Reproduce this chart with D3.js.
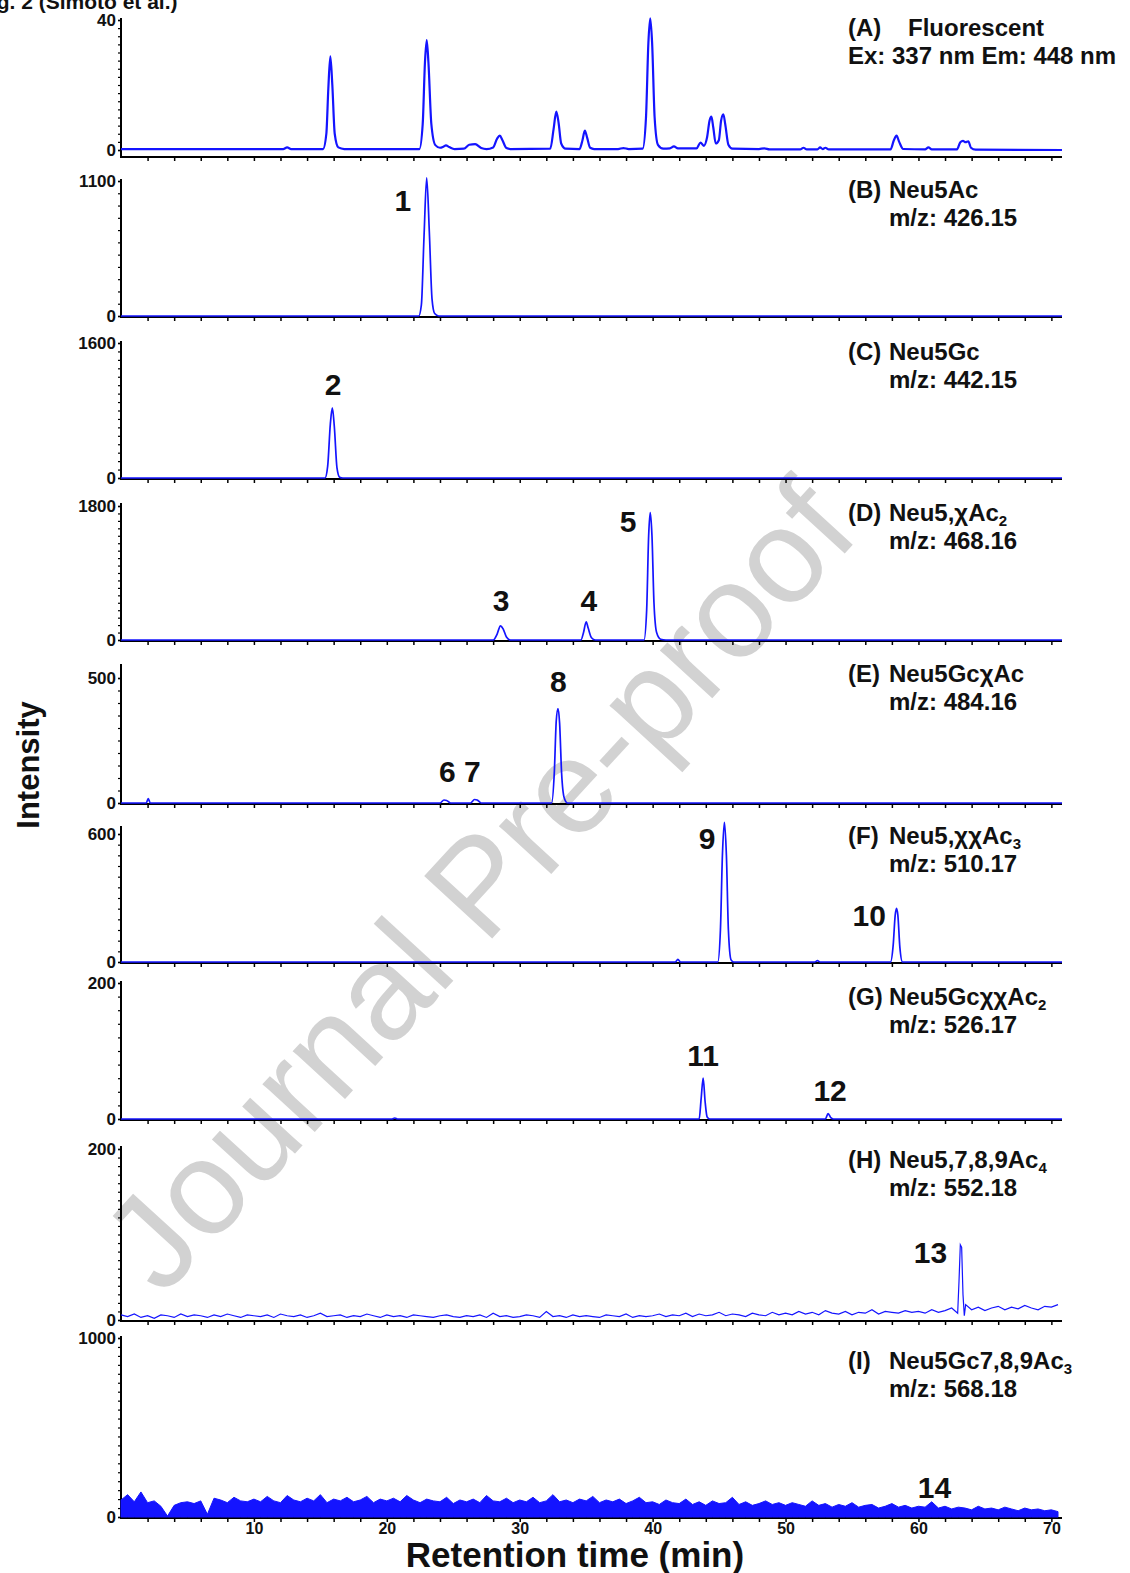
<!DOCTYPE html>
<html><head><meta charset="utf-8">
<script src="https://cdn.jsdelivr.net/npm/d3@7"></script>
<style>
body{margin:0;background:#fff}
svg{display:block}
text{font-family:"Liberation Sans",Arial,sans-serif;font-weight:bold;fill:#111}
</style></head>
<body><svg id="c" width="1130" height="1573"></svg>
<script>
// ---------------- data ----------------
const timeMax = 70.8;
const xTickLabels = [10, 20, 30, 40, 50, 60, 70];
const yMaxLabels = [40, 1100, 1600, 1800, 500, 600, 200, 200, 1000];
const yMinorStep = [2.5, 100, 100, 100, 50, 50, 20, 10, 50];
const panelIds = ["(A)", "(B)", "(C)", "(D)", "(E)", "(F)", "(G)", "(H)", "(I)"];
const panelNames = [
  ["Fluorescent"], ["Neu5Ac"], ["Neu5Gc"], ["Neu5,χAc", "2"], ["Neu5GcχAc"],
  ["Neu5,χχAc", "3"], ["Neu5GcχχAc", "2"], ["Neu5,7,8,9Ac", "4"], ["Neu5Gc7,8,9Ac", "3"]
];
const panelSub = ["Ex: 337 nm Em: 448 nm", "m/z: 426.15", "m/z: 442.15", "m/z: 468.16",
  "m/z: 484.16", "m/z: 510.17", "m/z: 526.17", "m/z: 552.18", "m/z: 568.18"];

// chromatogram traces [retention time (min), intensity]
const traceA = [[0,0.3],[12.2,0.3],[12.5,0.8],[12.8,0.3],
 [15.2,0.3],[15.45,5],[15.6,19],[15.75,28.8],[15.9,20],[16.08,5],[16.35,0.8],[16.8,0.3],
 [22.45,0.3],[22.7,8],[22.87,27],[23.0,33.8],[23.13,27],[23.35,8],[23.65,1.5],[24.0,0.7],
 [24.25,1.0],[24.45,1.4],[24.7,0.9],[25.1,0.3],
 [25.8,0.4],[26.2,1.6],[26.65,1.8],[27.1,0.6],[27.5,0.3],
 [28.0,0.8],[28.3,3.5],[28.5,4.4],[28.7,3],[29.0,0.6],[29.3,0.3],
 [32.3,0.4],[32.55,6.5],[32.75,11.8],[32.92,8.5],[33.12,2],[33.45,0.4],
 [34.5,0.3],[34.72,3],[34.9,6],[35.07,3.8],[35.3,0.7],[35.6,0.3],
 [37.4,0.3],[37.8,0.6],[38.2,0.3],
 [39.25,0.4],[39.5,10],[39.68,33],[39.82,40.5],[39.96,33],[40.15,10],[40.4,1.6],[40.8,0.4],
 [41.3,0.5],[41.6,1.1],[41.9,0.5],
 [43.3,0.5],[43.6,2.3],[43.85,1.3],
 [44.1,4],[44.28,9],[44.42,10.3],[44.56,7],[44.75,2],
 [44.98,3],[45.15,9],[45.32,11],[45.46,8],[45.7,1.6],[46.0,0.4],
 [48.0,0.3],[48.4,0.5],[48.8,0.2],
 [51.1,0.2],[51.35,0.7],[51.6,0.2],[52.4,0.2],[52.6,0.8],[52.8,0.3],[53.0,0.7],[53.25,0.2],
 [57.9,0.2],[58.15,3],[58.35,4.4],[58.55,2.5],[58.85,0.3],
 [60.5,0.2],[60.75,0.8],[61.0,0.2],
 [62.9,0.2],[63.15,2.4],[63.35,2.8],[63.55,2.4],[63.75,2.7],[63.95,0.7],[64.3,0.1],
 [70.8,0]];
const traceB = [[0,0],[22.4,0],[22.6,90],[22.8,650],[23.0,1125],[23.2,680],[23.4,140],[23.6,20],[23.9,0],[70.8,0]];
const traceC = [[0,0],[15.35,0],[15.55,140],[15.75,640],[15.9,830],[16.05,610],[16.25,120],[16.45,10],[16.7,0],[70.8,0]];
const traceD = [[0,0],[28.0,0],[28.3,80],[28.55,190],[28.75,150],[29.0,40],[29.3,0],
 [34.6,0],[34.8,100],[35.0,245],[35.15,160],[35.4,30],[35.7,0],
 [39.35,0],[39.55,400],[39.7,1400],[39.82,1710],[39.95,1400],[40.1,500],[40.3,100],[40.6,10],[41,0],[70.8,0]];
const traceE = [[0,0],[1.9,0],[2.05,18],[2.2,0],[24.0,0],[24.3,12],[24.5,10],[24.8,0],
 [26.3,0],[26.6,14],[26.8,12],[27.1,0],
 [32.4,0],[32.6,120],[32.75,330],[32.88,378],[33.0,320],[33.15,120],[33.35,20],[33.6,0],[70.8,0]];
const traceF = [[0,0],[41.7,0],[41.9,12],[42.1,0],
 [44.9,0],[45.1,150],[45.25,500],[45.4,655],[45.55,500],[45.7,150],[45.9,10],[46.1,0],
 [52.2,0],[52.4,6],[52.6,0],
 [57.9,0],[58.1,80],[58.25,220],[58.35,252],[58.45,220],[58.6,70],[58.8,0],[70.8,0]];
const traceG = [[0,0],[20.4,0],[20.6,1.5],[20.8,0],[43.5,0],[43.65,30],[43.8,60],[43.95,25],[44.1,3],[44.3,0],
 [53.0,0],[53.2,8],[53.4,2],[53.6,0],[70.8,0]];
// H: noisy baseline sampled every 0.5 min, plus peak 13
const noiseStep = 0.5;
const noiseH = [
 6,4,7,3,5,2,6,5,3,7,4,6,5,3,6,4,7,5,3,6,
 5,4,6,3,7,5,4,6,3,5,8,4,5,6,3,5,4,7,5,3,
 6,4,5,3,6,5,4,3,5,6,4,3,5,4,6,3,8,4,5,3,
 4,6,5,3,10,4,5,3,6,4,5,4,3,6,5,4,7,3,5,4,
 5,7,4,6,5,8,4,7,5,6,9,5,7,6,4,8,6,5,9,6,
 8,6,10,7,9,6,11,8,7,10,6,9,8,12,7,10,9,8,11,9,
 10,8,12,9,11,14,10,13,12,15,11,14,16,12,15,13,17,14,12,16,15,18];
const peak13 = [[62.95,8],[63.05,45],[63.15,88],[63.25,85],[63.35,30],[63.45,5],[63.55,18]];
// I: noise band sampled every 0.5 min (peak 14 near 61 min)
const noiseI = [
 95,125,85,140,80,90,60,5,65,80,85,75,90,15,105,95,80,110,90,85,
 100,85,115,90,80,120,95,85,105,90,125,80,100,90,110,85,95,115,80,100,
 90,105,85,120,95,80,100,90,85,110,75,95,85,100,80,120,90,85,105,80,
 95,85,110,80,90,125,85,95,80,100,90,115,80,95,85,100,75,90,110,80,
 85,70,95,80,75,100,70,85,65,90,75,80,110,70,85,65,75,90,70,80,
 65,80,70,60,90,65,75,55,70,60,80,55,65,70,50,60,75,55,65,50,
 60,55,85,50,60,45,55,50,40,60,45,50,40,55,45,35,50,40,45,35,40,30];

// peak number annotations: panel index, text, time, intensity (baseline of text)
const peakLabels = [
 [1,"1",21.2,856],[2,"2",15.95,984],[3,"3",28.6,390],[3,"4",35.2,390],[3,"5",38.15,1450],
 [4,"6 7",25.5,84],[4,"8",32.9,444],[5,"9",44.1,530],[5,"10",56.3,169],
 [6,"11",43.8,78],[6,"12",53.35,26],[7,"13",60.9,67],[8,"14",61.2,106]];

// ---------------- layout ----------------
const layout = [
 {yTop:20,  yZero:150,  axisY:157,  spineTop:18},
 {yTop:181, yZero:316,  axisY:317,  spineTop:179},
 {yTop:343, yZero:478,  axisY:479,  spineTop:341},
 {yTop:506, yZero:640,  axisY:641,  spineTop:503},
 {yTop:678, yZero:803,  axisY:804,  spineTop:664},
 {yTop:834, yZero:962,  axisY:963,  spineTop:826},
 {yTop:983, yZero:1119, axisY:1120, spineTop:981},
 {yTop:1149,yZero:1320, axisY:1321, spineTop:1146},
 {yTop:1338,yZero:1517, axisY:1518, spineTop:1336}];
const titleY = [36,198,360,521,682,844,1005,1168,1369];

const svg = d3.select("#c");
const blue = "#1414ff";
const x = d3.scaleLinear().domain([0, timeMax]).range([121, 1062]);

// watermark
svg.append("text").attr("transform","translate(478,885) rotate(-47.5)")
  .attr("text-anchor","middle").attr("dominant-baseline","central")
  .style("font-weight","normal").style("font-size","134px").style("fill","#d2d2d2")
  .text("Journal Pre-proof");

// top caption (cut off by the page edge, as in the source figure)
svg.append("text").attr("x",-22).attr("y",9).style("font-size","21px").text("Fig. 2 (Simoto et al.)");

const traces = [traceA, traceB, traceC, traceD, traceE, traceF, traceG];
const hPoints = noiseH.map((v,i)=>[i*noiseStep, v])
  .filter(p => p[0] < 62.95 || p[0] > 63.55).concat(peak13).sort((a,b)=>a[0]-b[0]);
const iPoints = noiseI.map((v,i)=>[i*noiseStep, v]);

layout.forEach((L, k) => {
  const top = yMaxLabels[k];
  const y = d3.scaleLinear().domain([0, top]).range([L.yZero, L.yTop]);
  const g = svg.append("g");
  // x axis line + small ticks every 2 min
  const xAxis = d3.axisBottom(x).tickValues(d3.range(2, timeMax, 2)).tickSize(4).tickFormat("");
  const xa = g.append("g").attr("transform",`translate(0,${L.axisY})`).call(xAxis);
  xa.select(".domain").attr("d",`M${x(0)},0H${x(timeMax)}`).attr("stroke","#000").attr("stroke-width",2);
  xa.selectAll(".tick line").attr("stroke","#000").attr("stroke-width",1.5);
  if (k === 8) {
    const lab = g.append("g").attr("transform",`translate(0,${L.axisY})`)
      .call(d3.axisBottom(x).tickValues(xTickLabels).tickSize(0).tickPadding(5));
    lab.select(".domain").remove();
    lab.selectAll("text").style("font-size","16px").style("font-family","Liberation Sans, Arial, sans-serif")
      .style("font-weight","bold").attr("fill","#111");
  }
  // y axis spine + minor ticks
  g.append("line").attr("x1",x(0)).attr("x2",x(0)).attr("y1",L.spineTop).attr("y2",L.axisY+1)
    .attr("stroke","#000").attr("stroke-width",2);
  const minor = d3.range(0, top + 1e-9, yMinorStep[k]);
  g.append("g").attr("transform",`translate(${x(0)},0)`)
    .call(d3.axisLeft(y).tickValues(minor).tickSize(3).tickFormat(""))
    .call(s => s.select(".domain").remove())
    .selectAll("line").attr("stroke","#000").attr("stroke-width",1.2);
  const ya = g.append("g").attr("transform",`translate(${x(0)},0)`)
    .call(d3.axisLeft(y).tickValues([0, top]).tickSize(3).tickPadding(2).tickFormat(d3.format("d")));
  ya.select(".domain").remove();
  ya.selectAll("line").attr("stroke","#000").attr("stroke-width",1.5);
  ya.selectAll("text").style("font-size","17px").style("font-family","Liberation Sans, Arial, sans-serif")
    .style("font-weight","bold").attr("fill","#111");

  // trace
  if (k < 7) {
    g.append("path").datum(traces[k])
      .attr("d", d3.line().x(d=>x(d[0])).y(d=>y(d[1])).curve(d3.curveMonotoneX))
      .attr("fill","none").attr("stroke",blue).attr("stroke-width", k===0 ? 2.2 : 1.7);
  } else if (k === 7) {
    g.append("path").datum(hPoints)
      .attr("d", d3.line().x(d=>x(d[0])).y(d=>y(d[1])))
      .attr("fill","none").attr("stroke",blue).attr("stroke-width",1.2);
  } else {
    g.append("path").datum(iPoints)
      .attr("d", d3.area().x(d=>x(d[0])).y0(y(0)).y1(d=>y(d[1])))
      .attr("fill",blue).attr("stroke",blue).attr("stroke-width",1);
  }

  // panel title
  const t1 = g.append("text").attr("x",848).attr("y",titleY[k]).style("font-size","24px");
  t1.append("tspan").text(panelIds[k]);
  t1.append("tspan").attr("x", k===0 ? 908 : 889).text(panelNames[k][0]);
  if (panelNames[k][1]) t1.append("tspan").attr("dy",5).style("font-size","15px").text(panelNames[k][1]);
  g.append("text").attr("x", k===0 ? 848 : 889).attr("y",titleY[k]+28).style("font-size","24px").text(panelSub[k]);

  // peak numbers
  peakLabels.filter(p=>p[0]===k).forEach(p=>{
    g.append("text").attr("x",x(p[2])).attr("y",y(p[3])).attr("text-anchor","middle")
      .style("font-size","30px").text(p[1]);
  });
});

// axis titles
svg.append("text").attr("x",575).attr("y",1567).attr("text-anchor","middle").style("font-size","35px")
  .text("Retention time (min)");
svg.append("text").attr("transform","translate(39,765) rotate(-90)").attr("text-anchor","middle")
  .style("font-size","31px").text("Intensity");
</script></body></html>
